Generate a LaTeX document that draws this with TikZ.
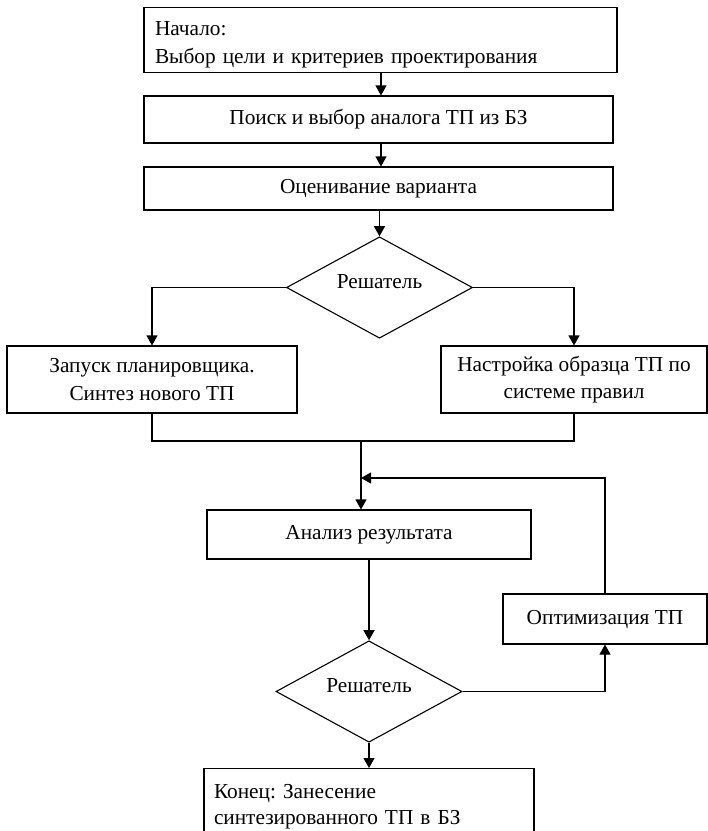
\documentclass[tikz,border=0pt]{standalone}
\usepackage{fontspec}
\setmainfont{Liberation Serif}
\frenchspacing
\usetikzlibrary{arrows.meta,positioning,shapes.geometric}

\begin{document}
\begin{tikzpicture}[x=1pt,y=-1pt,line width=1.1pt,
  every node/.style={font=\fontsize{21.3}{27.5}\selectfont},
  blok/.style={draw,rectangle,inner sep=0pt,align=center},
  reshatel/.style={draw,diamond,inner sep=0pt,minimum width=186pt,minimum height=101pt,
    text height=9pt,text depth=7pt},
  strelka/.style={-{Triangle[length=10pt,width=11pt]}}]
\clip (0,0) rectangle (708,831);

\node[blok,anchor=north,minimum width=473pt,minimum height=65pt,text width=451pt,align=left,
  text height=28pt,text depth=37pt] (nach) at (380.5,7)
  {Начало:\\Выбор цели и критериев проектирования};
\node[blok,minimum width=469pt,minimum height=47pt] (poisk) at (378.5,119.5) {Поиск и выбор аналога ТП из БЗ};
\node[blok,minimum width=469pt,minimum height=43pt] (ocen) at (378.5,188.5) {Оценивание варианта};
\node[reshatel] (resh1) at (379.5,287.5) {Решатель};

\node[blok,minimum width=290pt,minimum height=67pt] (zapusk) at (152,379.5) {Запуск планировщика.\\Синтез нового ТП};
\node[blok,minimum width=266pt,minimum height=67pt] (nastr) at (574,379.5) {Настройка образца ТП по\\системе правил};

\coordinate (sliv) at (361,441);
\coordinate (vozvrat) at (361,478);

\node[blok,minimum width=324pt,minimum height=49pt] (analiz) at (369,534.5) {Анализ результата};
\node[reshatel] (resh2) at (369,691.5) {Решатель};
\node[blok,minimum width=204pt,minimum height=50pt] (optim) at (605,619) {Оптимизация ТП};
\node[blok,anchor=north,minimum width=330pt,text width=310pt,align=left,
  font=\fontsize{21.3}{26}\selectfont,text height=30pt,text depth=50pt] (konec) at (369,768)
  {Конец: Занесение\\синтезированного ТП в БЗ};

\draw[strelka] (nach.south -| 381,0) -- (poisk.north -| 381,0);
\draw[strelka] (poisk.south -| 381,0) -- (ocen.north -| 381,0);
\draw[strelka] (ocen.south -| resh1.north) -- (resh1.north);
\draw[strelka] (resh1.west) -| (zapusk.north);
\draw[strelka] (resh1.east) -| (nastr.north);
\draw (zapusk.south) -- (zapusk.south |- sliv) -- (nastr.south |- sliv) -- (nastr.south);
\draw[strelka] (sliv) -- (sliv |- analiz.north);
\draw[strelka] (analiz.south) -- (resh2.north);
\draw[strelka] (resh2.east) -| (optim.south);
\draw[strelka] (optim.north) |- (vozvrat);
\draw[strelka] (resh2.south) -- (konec.north);
\end{tikzpicture}
\end{document}
